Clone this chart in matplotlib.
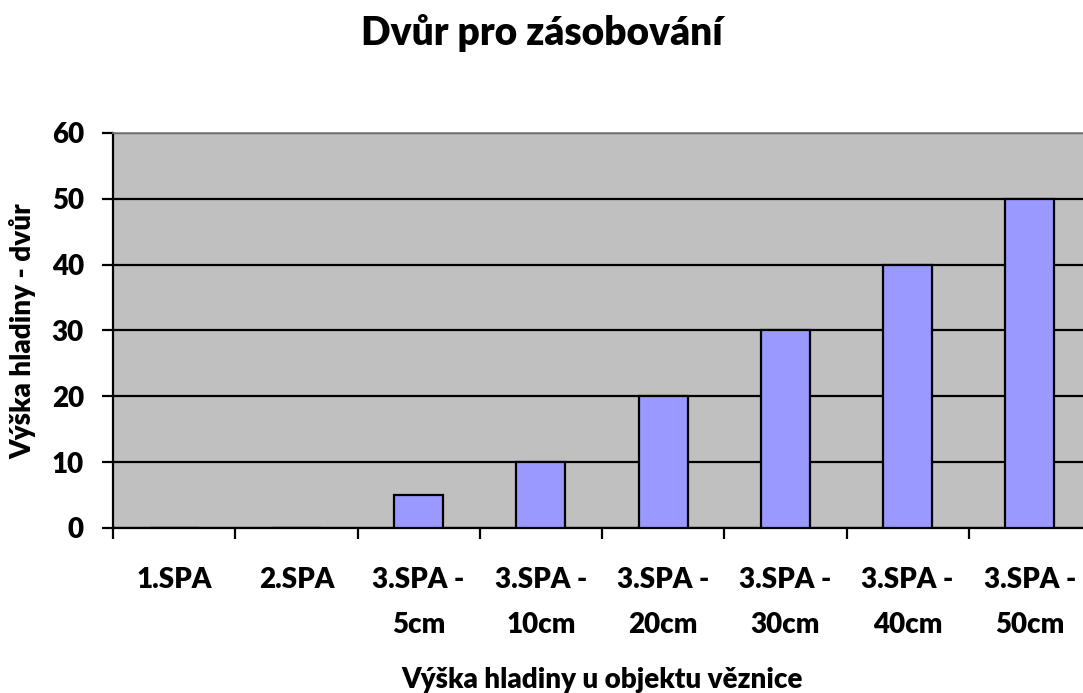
import numpy as np
import matplotlib.pyplot as plt

categories = ["1.SPA", "2.SPA", "3.SPA -\n5cm", "3.SPA -\n10cm", "3.SPA -\n20cm",
              "3.SPA -\n30cm", "3.SPA -\n40cm", "3.SPA -\n50cm"]
values = [0, 0, 5, 10, 20, 30, 40, 50]

plt.rcParams['font.family'] = ['Lato', 'DejaVu Sans']
plt.rcParams['font.weight'] = 'heavy'

W, H = 1083, 693
fig = plt.figure(figsize=(W / 100, H / 100), dpi=100)
ax = fig.add_axes([113 / W, 1 - 528 / H, 978 / W, 395 / H])
ax.set_facecolor('#C0C0C0')

x = np.arange(len(categories))
ax.bar(x, values, width=0.4, color='#9999FF', edgecolor='black', linewidth=1.6, zorder=3)

ax.set_xlim(-0.5, len(categories) - 0.5)
ax.set_ylim(0, 60)
ax.set_yticks(range(0, 61, 10))
ax.yaxis.grid(True, color='black', linewidth=1.6, zorder=1)
ax.set_axisbelow(True)

# ticks between categories, labels at centers
ax.set_xticks(np.arange(len(categories) + 1) - 0.5)
ax.set_xticklabels([])
ax.set_xticks(x, minor=True)
ax.set_xticklabels(categories, minor=True, fontsize=20, fontweight='heavy', linespacing=1.9)
ax.tick_params(axis='x', which='minor', length=0, pad=28)
ax.tick_params(axis='x', which='major', length=8, width=1.6, direction='out')
ax.tick_params(axis='y', length=8, width=1.6, direction='out', labelsize=20, pad=13)
for lbl in ax.get_yticklabels():
    lbl.set_fontweight('heavy')

for s in ['left', 'bottom']:
    ax.spines[s].set_linewidth(1.6)
    ax.spines[s].set_color('black')
ax.spines['top'].set_color('#808080')
ax.spines['top'].set_linewidth(1.2)
ax.spines['right'].set_visible(False)

fig.text(542 / W, 1 - 45 / H, "Dvůr pro zásobování", ha='center', va='baseline', fontsize=28, fontweight='heavy')
fig.text(602 / W, 1 - 688 / H, "Výška hladiny u objektu věznice", ha='center', va='baseline', fontsize=20, fontweight='heavy')
fig.text(23 / W, 1 - 331 / H, "Výška hladiny - dvůr", ha='center', va='center', rotation=90, fontsize=20, fontweight='heavy')

fig.savefig('out.png', dpi=100)
